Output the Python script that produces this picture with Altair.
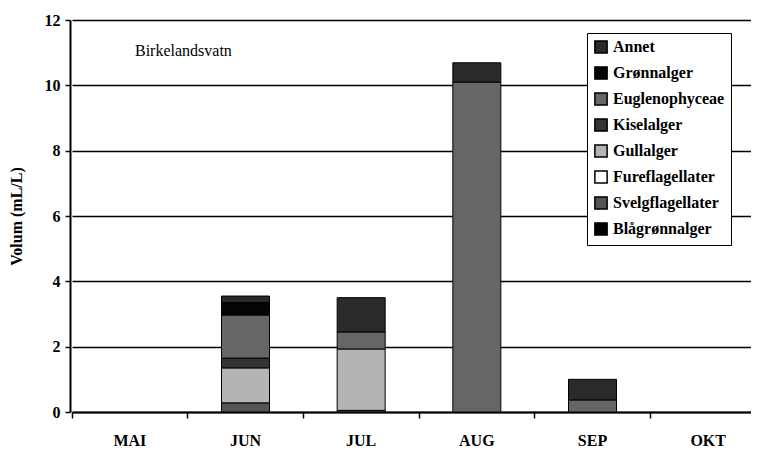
import altair as alt
import pandas as pd

months = ["MAI", "JUN", "JUL", "AUG", "SEP", "OKT"]
groups = ["Annet", "Grønnalger", "Euglenophyceae", "Kiselalger",
          "Gullalger", "Fureflagellater", "Svelgflagellater", "Blågrønnalger"]
blagronnalger = [0, 0, 0, 0, 0, 0]
svelgflagellater = [0, 0.28, 0.05, 0, 0, 0]
fureflagellater = [0, 0, 0, 0, 0, 0]
gullalger = [0, 1.07, 1.88, 0, 0, 0]
kiselalger = [0, 0.30, 0, 0, 0, 0]
euglenophyceae = [0, 1.32, 0.52, 10.1, 0.37, 0]
gronnalger = [0, 0.38, 0, 0, 0, 0]
annet = [0, 0.20, 1.05, 0.59, 0.63, 0]

fills = ["#2a2a2a", "#050505", "#666666", "#333333",
         "#b4b4b4", "#ffffff", "#555555", "#000000"]

series = {
    "Blågrønnalger": blagronnalger,
    "Svelgflagellater": svelgflagellater,
    "Fureflagellater": fureflagellater,
    "Gullalger": gullalger,
    "Kiselalger": kiselalger,
    "Euglenophyceae": euglenophyceae,
    "Grønnalger": gronnalger,
    "Annet": annet,
}
rows = []
for k, (name, vals) in enumerate(series.items()):
    for m, v in zip(months, vals):
        rows.append({"month": m, "group": name, "value": v, "ord": k})
df = pd.DataFrame(rows)

FONT = "Liberation Serif"

bars = alt.Chart(df).transform_filter(alt.datum.value > 0).mark_bar(
    size=48, stroke="black", strokeWidth=1
).encode(
    x=alt.X("month:N", sort=months,
            scale=alt.Scale(domain=months, paddingInner=0, paddingOuter=0,
                            range=[2, 696]),
            axis=alt.Axis(title=None, labelFont=FONT, labelFontSize=16,
                          labelFontWeight="bold", labelColor="black",
                          labelPadding=14, bandPosition=0, ticks=True,
                          tickColor="black", tickSize=6, tickWidth=1.5,
                          domainColor="black", domainWidth=2, labelAngle=0)),
    y=alt.Y("value:Q", stack="zero",
            scale=alt.Scale(domain=[0, 12], nice=False),
            axis=alt.Axis(title="Volum (mL/L)", values=[0, 2, 4, 6, 8, 10, 12],
                          labelFont=FONT, labelFontSize=16, labelFontWeight="bold",
                          labelColor="black", labelPadding=5,
                          titleFont=FONT, titleFontSize=16, titleFontWeight="bold",
                          titleColor="black", titlePadding=20,
                          grid=True, gridColor="black", gridWidth=1.5,
                          tickColor="black", tickSize=5, tickWidth=1.5,
                          domainColor="black", domainWidth=2)),
    color=alt.Color("group:N",
                    scale=alt.Scale(domain=groups, range=fills),
                    legend=alt.Legend(title=None, orient="none",
                                      legendX=517, legendY=13,
                                      symbolType="square", symbolSize=150,
                                      symbolStrokeColor="black", symbolStrokeWidth=1.5,
                                      symbolOpacity=1,
                                      labelFont=FONT, labelFontSize=16,
                                      labelFontWeight="bold",
                                      labelColor="black", labelOffset=4,
                                      rowPadding=6, padding=6,
                                      fillColor="white", strokeColor="black",
                                      labelLimit=300)),
    order=alt.Order("ord:Q", sort="ascending"),
)

label = alt.Chart(pd.DataFrame({"t": ["Birkelandsvatn"]})).mark_text(
    font=FONT, fontSize=16, align="left", baseline="middle", color="black"
).encode(text="t:N", x=alt.value(65), y=alt.value(31))

chart = alt.layer(bars, label).properties(
    width=681, height=392,
    autosize=alt.AutoSizeParams(type="none"),
    padding={"left": 62, "top": 12, "right": 0, "bottom": 37},
).configure_view(stroke=None).configure(background="white")

chart.save("out.html", embed_options={"renderer": "svg", "actions": False})
